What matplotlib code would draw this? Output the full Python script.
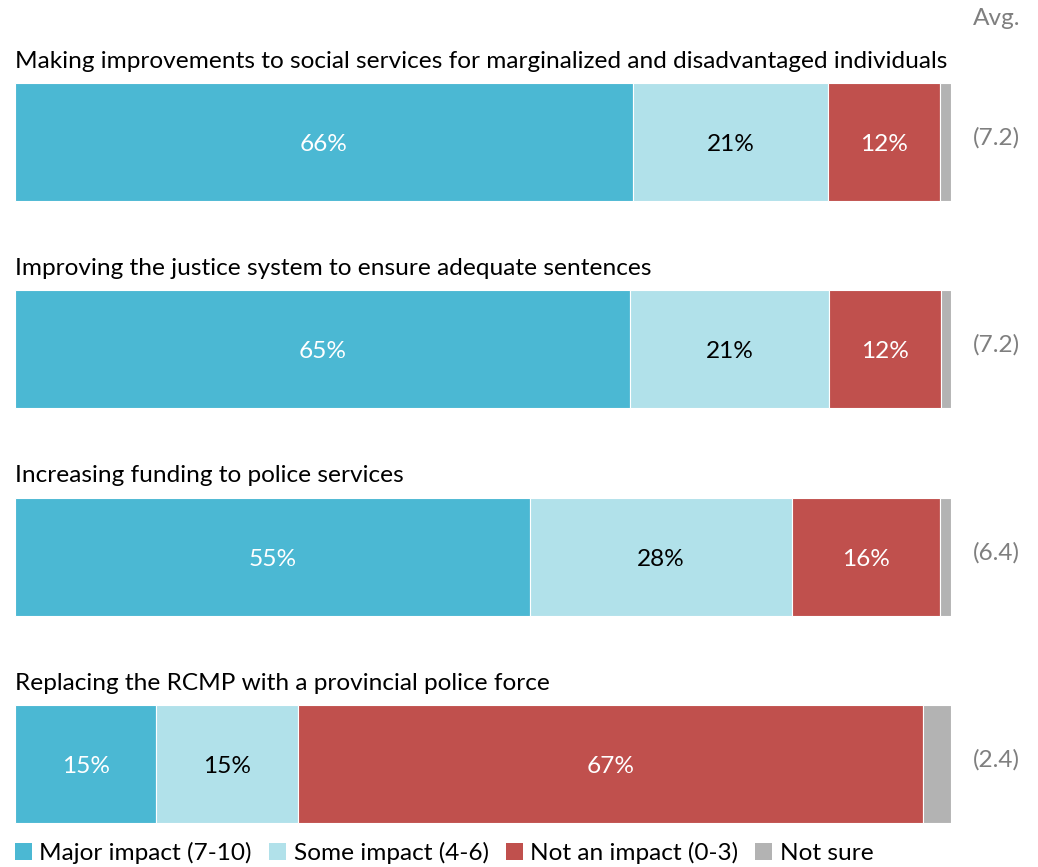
import matplotlib
matplotlib.use("Agg")
import matplotlib.pyplot as plt
from matplotlib.patches import Patch

plt.rcParams["font.family"] = ["Lato", "DejaVu Sans"]

# ---------------- DATA ----------------
items = [
    "Making improvements to social services for marginalized and disadvantaged individuals",
    "Improving the justice system to ensure adequate sentences",
    "Increasing funding to police services",
    "Replacing the RCMP with a provincial police force",
]
series = ["Major impact (7-10)", "Some impact (4-6)", "Not an impact (0-3)", "Not sure"]
major = [66.0, 65.7, 55.0, 15.1]
some = [20.9, 21.3, 28.0, 15.1]
not_impact = [11.9, 11.9, 15.8, 66.8]
not_sure = [1.2, 1.1, 1.2, 3.0]
major_lbl = ["66%", "65%", "55%", "15%"]
some_lbl = ["21%", "21%", "28%", "15%"]
not_lbl = ["12%", "12%", "16%", "67%"]
avg = ["(7.2)", "(7.2)", "(6.4)", "(2.4)"]

colors = ["#4BB8D3", "#B1E1EA", "#C0504D", "#B3B3B3"]
text_colors = ["white", "black", "white"]
fs = 17.6

# ---------------- PLOT ----------------
W, H = 1038, 867
fig = plt.figure(figsize=(W / 100, H / 100), dpi=100)
ax = fig.add_axes([15 / W, 0, 936 / W, 1])
ax.set_xlim(0, 100)
step = 207.3
ax.set_ylim((H - 142) / step, -142 / step)
ax.axis("off")

ypos = list(range(len(items)))
bar_h = 118 / step
left = [0] * len(items)
data = [major, some, not_impact, not_sure]
labels = [major_lbl, some_lbl, not_lbl, None]
for k, vals in enumerate(data):
    ax.barh(ypos, vals, left=left, height=bar_h, color=colors[k],
            edgecolor="white", linewidth=0.8)
    if labels[k] is not None:
        for i, v in enumerate(vals):
            ax.text(left[i] + v / 2, ypos[i] + 0.012, labels[k][i], ha="center", va="center",
                    fontsize=fs, color=text_colors[k])
    left = [l + v for l, v in zip(left, vals)]

for i, name in enumerate(items):
    ax.text(0, ypos[i] - 0.39, name, ha="left", va="center", fontsize=fs, color="black")
    ax.text(104.9, ypos[i] - 0.02, avg[i], ha="center", va="center", fontsize=fs,
            color="#7F7F7F")

ax.text(104.9, -0.595, "Avg.", ha="center", va="center", fontsize=fs, color="#7F7F7F",
        clip_on=False)

handles = [Patch(facecolor=c, edgecolor="none") for c in colors]
fig.legend(handles, series, loc="center left", bbox_to_anchor=(15 / W, 1 - 853 / H),
           ncol=4, frameon=False, fontsize=fs, handlelength=0.7, handleheight=0.7,
           handletextpad=0.3, columnspacing=0.7, borderaxespad=0, borderpad=0)

fig.savefig("out.png", dpi=100)
